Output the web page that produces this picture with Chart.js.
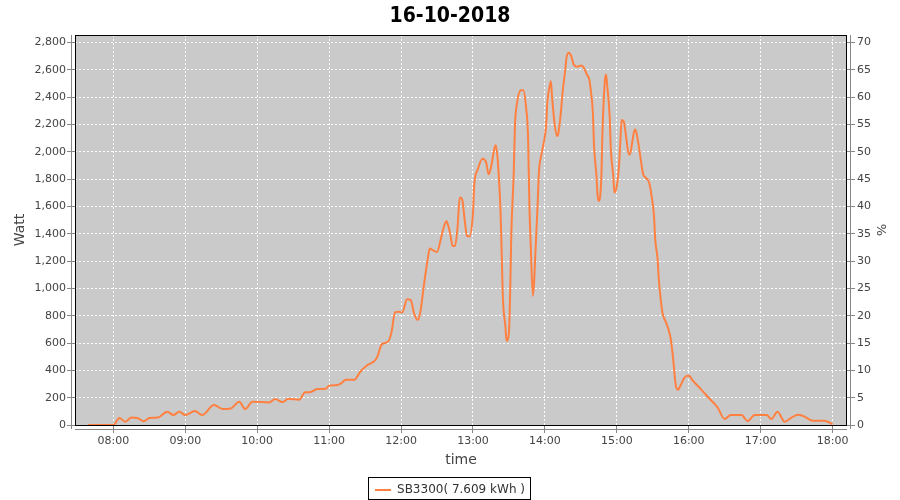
<!DOCTYPE html>
<html>
<head>
<meta charset="utf-8">
<script src="https://cdn.jsdelivr.net/npm/chart.js@4.4.3/dist/chart.umd.min.js"></script>
<style>
  html, body { margin: 0; padding: 0; background: #fff; }
  #wrap { width: 900px; height: 500px; }
</style>
</head>
<body>
<div id="wrap"><canvas id="chart" width="900" height="500"></canvas></div>
<script>
// minutes after midnight
const times = [459,480,485,490,495,500,505,510,517,525,530,535,540,548,554,564,571,578,585,590,596,610,615,621,626,635,640,644,650,657,660,667,670,674,681,686,692,697,700,704,709,712,715,718,721,725,728,731,734,736,739,742,744,746,750,753,756,758,759,761,763,765,767,769,771,773,775,777,780,781,784,788,791,793,795,798,799,801,803,804,805,807,808,810,811,812,814,815,817,820,822,824,826,827,828,830,831,832,834,835,837,839,841,842,844,845,846,848,850,851,853,855,857,858,860,862,864,867,870,872,875,877,878,880,881,883,884,885,887,888,890,891,892,894,895,897,898,900,902,903,904,906,908,910,911,913,915,916,918,920,922,924,927,929,931,932,934,935,936,938,941,943,945,947,949,951,953,956,959,961,962,966,970,975,984,990,995,1004,1009,1015,1025,1029,1034,1040,1046,1051,1055,1064,1073,1076,1080];
const watts = [0,0,51,24,54,52,27,51,55,97,73,97,73,102,73,146,117,121,170,117,170,165,190,168,192,185,239,240,263,265,287,292,305,331,331,390,439,463,495,592,609,678,824,829,824,921,916,812,770,824,1018,1201,1292,1282,1267,1355,1460,1491,1470,1400,1311,1311,1433,1665,1652,1506,1384,1380,1555,1750,1872,1950,1921,1835,1884,2030,2047,1896,1555,1238,921,726,616,678,970,1409,1847,2188,2371,2451,2451,2347,2091,1628,1360,945,1050,1250,1630,1850,1975,2067,2188,2359,2481,2517,2396,2213,2115,2127,2261,2456,2603,2688,2725,2700,2639,2622,2632,2622,2566,2530,2469,2286,2042,1823,1676,1640,1798,2140,2517,2566,2481,2261,2018,1823,1701,1750,1921,2091,2232,2213,2091,1981,1981,2079,2164,2152,2060,1940,1835,1811,1774,1676,1530,1360,1214,1067,970,824,751,702,629,483,300,258,287,341,360,356,341,300,263,214,129,44,73,73,29,73,73,44,97,24,56,75,68,31,31,24,5];

const hourTicks = ['08:00','09:00','10:00','11:00','12:00','13:00','14:00','15:00','16:00','17:00','18:00'];
const wattTicks = [0,200,400,600,800,1000,1200,1400,1600,1800,2000,2200,2400,2600,2800];
const pctTicks = [0,5,10,15,20,25,30,35,40,45,50,55,60,65,70];

const seriesLabel = 'SB3300( 7.609 kWh )';
const title = '16-10-2018';

const toMin = s => { const [h, m] = s.split(':').map(Number); return h * 60 + m; };
const toHHMM = v => String(Math.floor(v / 60)).padStart(2, '0') + ':' + String(v % 60).padStart(2, '0');

const tickFont = { family: 'DejaVu Sans', size: 11 };
const titleFont = { family: 'DejaVu Sans', size: 14 };
const tickColor = '#444';

// gray plot background, black frame, offset axis lines and legend box
const plotFrame = {
  id: 'plotFrame',
  beforeDraw(chart) {
    const { ctx, chartArea: a } = chart;
    ctx.save();
    ctx.fillStyle = '#cacaca';
    ctx.fillRect(a.left, a.top, a.width, a.height);
    ctx.restore();
  },
  afterDraw(chart) {
    const { ctx, chartArea: a } = chart;
    ctx.save();
    ctx.strokeStyle = '#000';
    ctx.lineWidth = 1;
    ctx.strokeRect(Math.round(a.left) + 0.5, Math.round(a.top) + 0.5, Math.round(a.width) - 1, Math.round(a.height));
    ctx.strokeStyle = '#888';
    ctx.beginPath();
    ctx.moveTo(Math.round(a.left) - 3.5, a.top);
    ctx.lineTo(Math.round(a.left) - 3.5, a.bottom + 4);
    ctx.moveTo(Math.round(a.right) + 3.5, a.top);
    ctx.lineTo(Math.round(a.right) + 3.5, a.bottom + 4);
    ctx.moveTo(a.left, Math.round(a.bottom) + 4.5);
    ctx.lineTo(a.right, Math.round(a.bottom) + 4.5);
    ctx.stroke();
    const hb = chart.legend.legendHitBoxes[0];
    if (hb) {
      ctx.strokeStyle = '#000';
      ctx.strokeRect(Math.round(hb.left) - 6.5, Math.round(hb.top) - 6.5, Math.round(hb.width) + 12, Math.round(hb.height) + 10);
    }
    ctx.restore();
  }
};

new Chart(document.getElementById('chart'), {
  type: 'line',
  data: {
    datasets: [{
      label: seriesLabel,
      data: times.map((t, i) => ({ x: t, y: watts[i] })),
      borderColor: '#ff8040',
      backgroundColor: '#ff8040',
      borderWidth: 2,
      pointRadius: 0,
      cubicInterpolationMode: 'monotone',
      yAxisID: 'y'
    }]
  },
  options: {
    responsive: false,
    animation: false,
    layout: { padding: { top: 0, bottom: -6, left: 0, right: 0 } },
    plugins: {
      title: {
        display: true,
        text: title,
        color: '#000',
        font: { family: "'Liberation Sans Narrow', 'DejaVu Sans Condensed', sans-serif", size: 21, weight: 'bold' },
        padding: { top: 3.5, bottom: 6.3 }
      },
      legend: {
        position: 'bottom',
        labels: {
          usePointStyle: true,
          pointStyle: 'line',
          pointStyleWidth: 16,
          boxHeight: 12,
          color: '#333',
          font: { family: 'DejaVu Sans', size: 12 },
          padding: 6
        }
      },
      tooltip: { enabled: false }
    },
    scales: {
      x: {
        type: 'linear',
        bounds: 'data',
        min: 448,
        max: 1092,
        afterBuildTicks: s => { s.ticks = hourTicks.map(h => ({ value: toMin(h) })); },
        afterFit: s => { s.height = 53; },
        ticks: { callback: v => toHHMM(v), color: tickColor, font: tickFont, padding: 2, maxRotation: 0 },
        grid: { color: '#fff', tickColor: '#888', tickLength: 8 },
        border: { display: false, dash: [2, 2] },
        title: { display: true, text: 'time', color: tickColor, font: titleFont, padding: { top: 0, bottom: 9 } }
      },
      y: {
        position: 'left',
        min: 0,
        max: 2855,
        bounds: 'data',
        afterBuildTicks: s => { s.ticks = wattTicks.map(v => ({ value: v })); },
        afterFit: s => { s.width = 75; },
        ticks: { callback: v => v.toLocaleString('en-US'), color: tickColor, font: tickFont, padding: 1 },
        grid: { color: '#fff', tickColor: '#888', tickLength: 8 },
        border: { display: false, dash: [2, 2] },
        title: { display: true, text: 'Watt', color: tickColor, font: titleFont, padding: { top: 12, bottom: 0 } }
      },
      y1: {
        position: 'right',
        display: true,
        min: 0,
        max: 2855 / 40,
        bounds: 'data',
        afterBuildTicks: s => { s.ticks = pctTicks.map(v => ({ value: v })); },
        afterFit: s => { s.width = 53; },
        ticks: { color: tickColor, font: tickFont, padding: 2 },
        grid: { drawOnChartArea: false, tickColor: '#888', tickLength: 8 },
        border: { display: false },
        title: { display: true, text: '%', color: tickColor, font: { family: 'DejaVu Sans', size: 13 }, padding: { top: 12, bottom: 0 } }
      }
    }
  },
  plugins: [plotFrame]
});
</script>
</body>
</html>
